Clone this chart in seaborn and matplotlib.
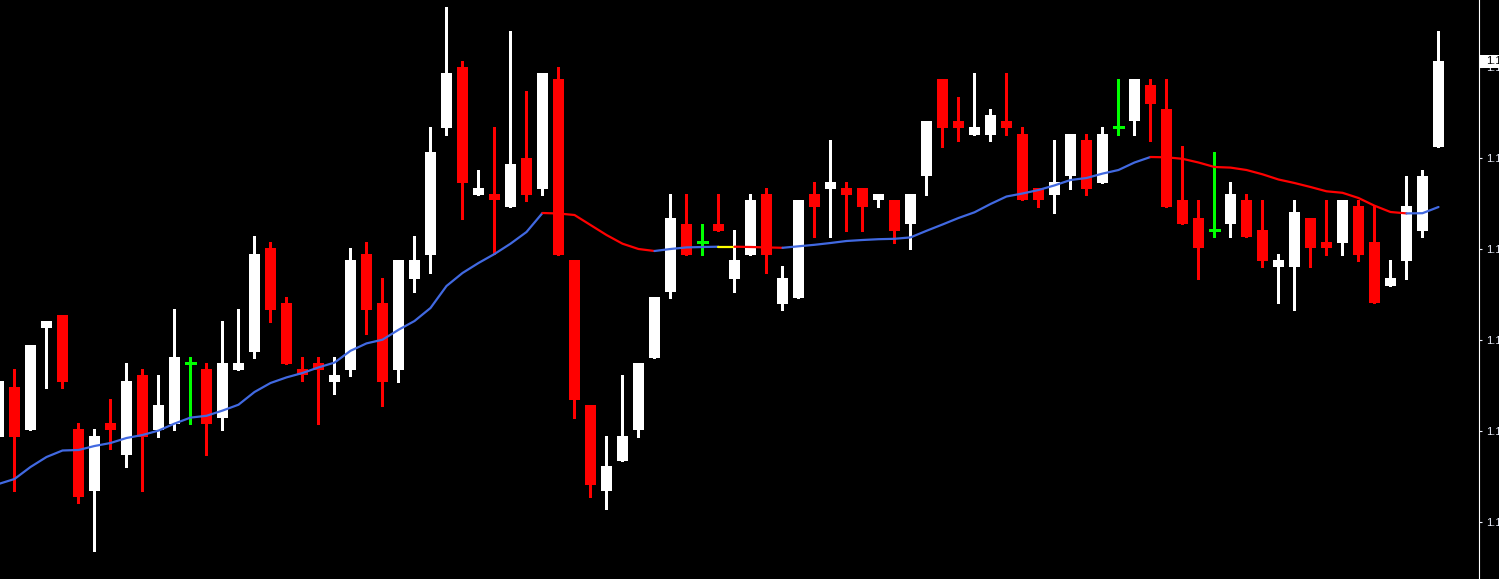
import numpy as np
import pandas as pd
import matplotlib
matplotlib.use("Agg")
import matplotlib.pyplot as plt
import seaborn as sns
from matplotlib.patches import Rectangle

# Bars, oldest first (the first one is cut by the left edge)
bar_index = list(range(-1, 90))

opens = [1.12863, 1.12913, 1.12870, 1.12972, 1.12985, 1.12871, 1.12809, 1.12877, 1.12845, 1.12925,
         1.12870, 1.12876, 1.12937, 1.12931, 1.12882, 1.12930, 1.12948, 1.13052, 1.12997, 1.12931,
         1.12937, 1.12918, 1.12930, 1.13046, 1.12997, 1.12930, 1.13021, 1.13045, 1.13172, 1.13233,
         1.13105, 1.13106, 1.13093, 1.13142, 1.13111, 1.13221, 1.13040, 1.12895, 1.12809, 1.12839,
         1.12870, 1.12942, 1.13008, 1.13076, 1.13058, 1.13076, 1.13021, 1.13045, 1.13106, 1.12996,
         1.13002, 1.13106, 1.13111, 1.13112, 1.13112, 1.13100, 1.13100, 1.13076, 1.13124, 1.13221,
         1.13179, 1.13165, 1.13165, 1.13179, 1.13166, 1.13112, 1.13105, 1.13124, 1.13160, 1.13117,
         1.13173, 1.13179, 1.13215, 1.13191, 1.13100, 1.13082, 1.13070, 1.13076, 1.13100, 1.13070,
         1.13033, 1.13033, 1.13082, 1.13058, 1.13057, 1.13094, 1.13058, 1.13014, 1.13039, 1.13069,
         1.13153]

highs = [1.12922, 1.12931, 1.12955, 1.12979, 1.12985, 1.12877, 1.12871, 1.12901, 1.12937, 1.12931,
         1.12925, 1.12991, 1.12943, 1.12937, 1.12979, 1.12991, 1.13064, 1.13058, 1.13003, 1.12943,
         1.12943, 1.12943, 1.13052, 1.13058, 1.13022, 1.13040, 1.13064, 1.13173, 1.13293, 1.13239,
         1.13130, 1.13173, 1.13269, 1.13209, 1.13227, 1.13233, 1.13040, 1.12895, 1.12864, 1.12925,
         1.12937, 1.13003, 1.13106, 1.13106, 1.13076, 1.13106, 1.13070, 1.13106, 1.13112, 1.13034,
         1.13100, 1.13118, 1.13160, 1.13118, 1.13112, 1.13106, 1.13100, 1.13106, 1.13179, 1.13221,
         1.13203, 1.13227, 1.13191, 1.13227, 1.13173, 1.13112, 1.13160, 1.13166, 1.13166, 1.13173,
         1.13221, 1.13221, 1.13221, 1.13221, 1.13154, 1.13100, 1.13148, 1.13118, 1.13106, 1.13100,
         1.13046, 1.13100, 1.13082, 1.13100, 1.13100, 1.13100, 1.13094, 1.13040, 1.13124, 1.13130,
         1.13269]

lows = [1.12859, 1.12809, 1.12870, 1.12912, 1.12912, 1.12797, 1.12749, 1.12851, 1.12833, 1.12809,
        1.12863, 1.12870, 1.12876, 1.12845, 1.12870, 1.12930, 1.12942, 1.12978, 1.12936, 1.12919,
        1.12876, 1.12906, 1.12924, 1.12966, 1.12894, 1.12918, 1.13008, 1.13027, 1.13165, 1.13081,
        1.13105, 1.13046, 1.13093, 1.13099, 1.13105, 1.13045, 1.12882, 1.12803, 1.12791, 1.12839,
        1.12863, 1.12942, 1.13002, 1.13045, 1.13045, 1.13069, 1.13008, 1.13045, 1.13027, 1.12990,
        1.13002, 1.13063, 1.13063, 1.13069, 1.13069, 1.13093, 1.13057, 1.13051, 1.13105, 1.13153,
        1.13159, 1.13165, 1.13159, 1.13165, 1.13100, 1.13093, 1.13087, 1.13111, 1.13105, 1.13117,
        1.13165, 1.13165, 1.13159, 1.13093, 1.13076, 1.13021, 1.13063, 1.13063, 1.13063, 1.13033,
        1.12997, 1.12990, 1.13033, 1.13045, 1.13045, 1.13039, 1.12997, 1.13014, 1.13021, 1.13063,
        1.13153]

closes = [1.12919, 1.12863, 1.12955, 1.12979, 1.12918, 1.12803, 1.12864, 1.12870, 1.12919, 1.12863,
          1.12895, 1.12943, 1.12937, 1.12876, 1.12937, 1.12937, 1.13046, 1.12990, 1.12936, 1.12925,
          1.12930, 1.12925, 1.13040, 1.12990, 1.12918, 1.13040, 1.13040, 1.13148, 1.13227, 1.13117,
          1.13112, 1.13100, 1.13136, 1.13105, 1.13227, 1.13045, 1.12900, 1.12815, 1.12834, 1.12864,
          1.12937, 1.13003, 1.13082, 1.13045, 1.13058, 1.13069, 1.13040, 1.13100, 1.13045, 1.13022,
          1.13100, 1.13093, 1.13118, 1.13105, 1.13093, 1.13106, 1.13069, 1.13106, 1.13179, 1.13172,
          1.13172, 1.13173, 1.13185, 1.13172, 1.13100, 1.13100, 1.13118, 1.13166, 1.13111, 1.13166,
          1.13173, 1.13221, 1.13196, 1.13093, 1.13076, 1.13052, 1.13070, 1.13106, 1.13063, 1.13039,
          1.13040, 1.13088, 1.13052, 1.13052, 1.13100, 1.13045, 1.12997, 1.13022, 1.13094, 1.13124,
          1.13239]

# Moving average line, one value per bar
moving_avg = [1.128160, 1.128210, 1.128330, 1.128430, 1.128495, 1.128500, 1.128540, 1.128570, 1.128620, 1.128650,
              1.128694, 1.128764, 1.128824, 1.128842, 1.128894, 1.128953, 1.129080, 1.129170, 1.129226, 1.129270,
              1.129326, 1.129374, 1.129492, 1.129566, 1.129603, 1.129702, 1.129790, 1.129920, 1.130140, 1.130270,
              1.130370, 1.130460, 1.130563, 1.130680, 1.130870, 1.130865, 1.130850, 1.130750, 1.130650, 1.130563,
              1.130510, 1.130490, 1.130510, 1.130526, 1.130530, 1.130533, 1.130533, 1.130530, 1.130526, 1.130522,
              1.130537, 1.130552, 1.130570, 1.130590, 1.130600, 1.130608, 1.130612, 1.130626, 1.130692, 1.130755,
              1.130820, 1.130877, 1.130960, 1.131035, 1.131065, 1.131100, 1.131146, 1.131200, 1.131220, 1.131264,
              1.131300, 1.131375, 1.131430, 1.131427, 1.131412, 1.131375, 1.131330, 1.131324, 1.131300, 1.131257,
              1.131205, 1.131170, 1.131130, 1.131087, 1.131072, 1.131020, 1.130943, 1.130880, 1.130866, 1.130868,
              1.130930]

# Price scale labels on the right
price_ticks = [1.13233, 1.13142, 1.13051, 1.12960, 1.12869, 1.12778]

BULL = "white"
BEAR = "#ff0000"
DOJI = "#00ff00"


def run_chart():
    df = pd.DataFrame({"bar": bar_index, "open": opens, "high": highs,
                       "low": lows, "close": closes, "ma": moving_avg})
    df["kind"] = np.where(df["close"] > df["open"], "bull",
                          np.where(df["close"] < df["open"], "bear", "doji"))
    colours = df["kind"].map({"bull": BULL, "bear": BEAR, "doji": DOJI})

    sns.set_style("dark", {"axes.facecolor": "black", "figure.facecolor": "black",
                           "axes.grid": False})
    plt.rcParams["font.family"] = ["Liberation Sans", "DejaVu Sans"]

    fig = plt.figure(figsize=(14.99, 5.79), dpi=100)
    ax = fig.add_axes([0, 0, 1478.5 / 1499, 1])
    ax.set_facecolor("black")

    # Wicks
    ax.vlines(df["bar"], df["low"], df["high"], colors=colours,
              linewidth=0.8, antialiased=False, zorder=2)

    # Bodies
    body = df[df["kind"] != "doji"]
    ax.bar(body["bar"], (body["close"] - body["open"]).abs(),
           bottom=body[["open", "close"]].min(axis=1), width=0.6875,
           color=colours[body.index], linewidth=0, antialiased=False, zorder=3)

    # Doji crosses
    doji = df[df["kind"] == "doji"]
    ax.hlines(doji["open"], doji["bar"] - 0.34, doji["bar"] + 0.34,
              colors=DOJI, linewidth=0.8, antialiased=False, zorder=3)

    # Moving average, coloured by direction (up blue, down red, flat yellow)
    step = df["ma"].diff().shift(-1).iloc[:-1]
    trend = np.where(np.isclose(step, 0, atol=1e-9), "flat",
                     np.where(step > 0, "up", "down"))
    trend_colour = {"up": "#4169e1", "down": "#ff0000", "flat": "#ffff00"}
    start = 0
    for i in range(1, len(trend) + 1):
        if i == len(trend) or trend[i] != trend[start]:
            seg = df.iloc[start:i + 1]
            sns.lineplot(x=seg["bar"], y=seg["ma"], color=trend_colour[trend[start]],
                         linewidth=1.6, ax=ax, zorder=4, estimator=None)
            start = i

    ax.set_xlim(-0.906, 91.5)
    ax.set_ylim(1.12721, 1.13300)
    ax.set_xlabel("")
    ax.set_ylabel("")
    ax.set_xticks([])

    # Price axis on the right
    ax.yaxis.tick_right()
    ax.set_yticks(price_ticks)
    ax.set_yticklabels([f"{p:.5f}" for p in price_ticks])
    ax.tick_params(axis="y", direction="out", length=2.2, width=0.8,
                   colors="#eef2ff", pad=3.4, labelsize=8)
    for side in ["left", "top", "bottom"]:
        ax.spines[side].set_visible(False)
    ax.spines["right"].set_visible(True)
    ax.spines["right"].set_color("white")
    ax.spines["right"].set_linewidth(0.8)

    # Current price marker
    last = closes[-1]
    tr = ax.get_yaxis_transform()
    ax.add_patch(Rectangle((1.0004, last - 0.00007), 0.03, 0.00013, transform=tr,
                           facecolor="white", edgecolor="none", clip_on=False, zorder=6))
    ax.text(1.0051, last, f"{last:.5f}", transform=tr, ha="left", va="center",
            fontsize=8, color="black", clip_on=False, zorder=7)

    fig.savefig("out.png", dpi=100, facecolor="black")


if __name__ == "__main__":
    run_chart()
